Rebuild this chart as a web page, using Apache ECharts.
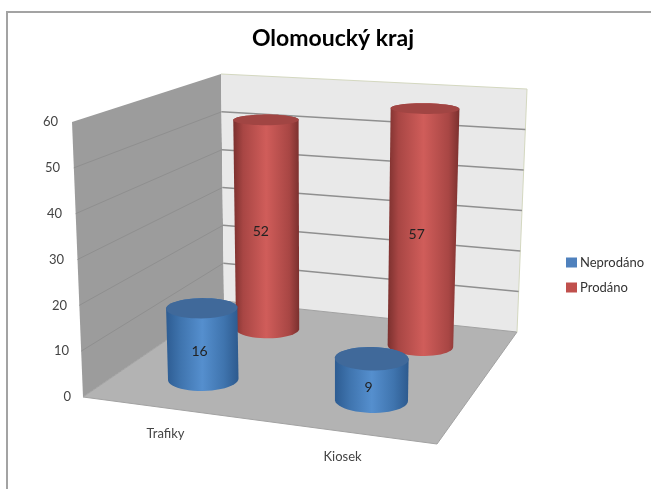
<!DOCTYPE html>
<html>
<head>
<meta charset="utf-8">
<title>Olomoucký kraj</title>
<script src="https://cdn.jsdelivr.net/npm/echarts@6/dist/echarts.min.js"></script>
<style>
  html, body { margin: 0; padding: 0; background: #fff; }
  #chart { width: 651px; height: 489px; }
</style>
</head>
<body>
<div id="chart"></div>
<script>
const categories = ['Trafiky', 'Kiosek']
const neprodano = [16, 9]
const prodano = [52, 57]
const yTicks = [0, 10, 20, 30, 40, 50, 60]

const FONT = 'Lato, "Open Sans", sans-serif'
const GRID = { left: 77, top: 122, width: 354, height: 275 }

// corners of the 3D box as they appear on screen
const floorQuad = [[83, 397], [437, 444], [517, 332], [224, 301]]
const topQuad = [[72, 122], [443, 146], [527, 89], [221, 74]]

function homography(q) {
  const [[x0, y0], [x1, y1], [x2, y2], [x3, y3]] = q
  const dx1 = x1 - x2, dx2 = x3 - x2, dx3 = x0 - x1 + x2 - x3
  const dy1 = y1 - y2, dy2 = y3 - y2, dy3 = y0 - y1 + y2 - y3
  const den = dx1 * dy2 - dx2 * dy1
  const g = (dx3 * dy2 - dx2 * dy3) / den
  const h = (dx1 * dy3 - dx3 * dy1) / den
  return (u, d) => {
    const w = g * u + h * d + 1
    return [
      ((x1 - x0 + g * x1) * u + (x3 - x0 + h * x3) * d + x0) / w,
      ((y1 - y0 + g * y1) * u + (y3 - y0 + h * y3) * d + y0) / w,
    ]
  }
}
const onFloor = homography(floorQuad)
const onTop = homography(topQuad)

// u: 0-1 along the categories, d: 0-1 into the depth, v: 0-1 up the value axis
function project(u, d, v) {
  const a = onFloor(u, d)
  const b = onTop(u, d)
  return [a[0] + (b[0] - a[0]) * v, a[1] + (b[1] - a[1]) * v]
}
function uFromPixel(x) { return (x - GRID.left) / GRID.width }
function vFromPixel(y) { return (GRID.top + GRID.height - y) / GRID.height }

function renderWalls(params, api) {
  return {
    type: 'group',
    children: [
      { type: 'polygon', shape: { points: [project(0, 0, 0), project(0, 1, 0), project(0, 1, 1), project(0, 0, 1)] },
        style: { fill: '#9c9c9c' } },
      { type: 'polygon', shape: { points: [project(0, 1, 0), project(1, 1, 0), project(1, 1, 1), project(0, 1, 1)] },
        style: { fill: '#e9e9e9' } },
      { type: 'polygon', shape: { points: [project(0, 0, 0), project(1, 0, 0), project(1, 1, 0), project(0, 1, 0)] },
        style: { fill: '#b3b3b3', stroke: '#a2a2a2', lineWidth: 1 } },
      { type: 'polyline', shape: { points: [project(0, 1, 1), project(1, 1, 1), project(1, 1, 0)] },
        style: { fill: 'none', stroke: '#d4d8c0', lineWidth: 1 } },
    ],
  }
}

function renderGridLine(params, api) {
  const v = vFromPixel(api.coord([0, api.value(1)])[1])
  if (v <= 0 || v >= 1) return null
  return {
    type: 'group',
    children: [
      { type: 'polyline', shape: { points: [project(0, 0, v), project(0, 1, v)] },
        style: { fill: 'none', stroke: '#8f8f8f', lineWidth: 1 } },
      { type: 'polyline', shape: { points: [project(0, 1, v), project(1, 1, v)] },
        style: { fill: 'none', stroke: '#8f8f8f', lineWidth: 1.5 } },
    ],
  }
}

function cylinderRenderer(depth, look) {
  const R = 0.1
  const ring = (u, v) => {
    const pts = []
    for (let i = 0; i < 48; i++) {
      const t = (i / 48) * Math.PI * 2
      pts.push(project(u + R * Math.cos(t), depth + R * Math.sin(t), v))
    }
    return pts
  }
  return function (params, api) {
    const val = api.value(1)
    const p = api.coord([api.value(0), val])
    const u = uFromPixel(p[0])
    const v = vFromPixel(p[1])
    const bottom = ring(u, 0)
    const top = ring(u, v)
    const side = pts => {
      let l = 0, r = 0
      pts.forEach((q, i) => {
        if (q[0] < pts[l][0]) l = i
        if (q[0] > pts[r][0]) r = i
      })
      return [l, r]
    }
    // near arc of the base plus far arc of the top gives the body outline
    const [bl, br] = side(bottom)
    const [tl, tr] = side(top)
    const front = []
    for (let i = bl; ; i = (i + 1) % 48) {
      front.push(bottom[i])
      if (i === br) break
    }
    const back = []
    for (let i = tr; ; i = (i + 1) % 48) {
      back.push(top[i])
      if (i === tl) break
    }
    const x0 = Math.min(bottom[bl][0], top[tl][0])
    const x1 = Math.max(bottom[br][0], top[tr][0])
    const mid = project(u, depth, v * 0.5)
    return {
      type: 'group',
      children: [
        { type: 'polygon', shape: { points: front.concat(back) },
          style: { fill: new echarts.graphic.LinearGradient(x0, 0, x1, 0, look.body, true) } },
        { type: 'polygon', shape: { points: top }, style: { fill: look.cap } },
        { type: 'text', x: mid[0] + look.labelDx, y: mid[1] + look.labelDy,
          style: { text: String(val), fontFamily: FONT, fontSize: 14, fill: '#222', align: 'center', verticalAlign: 'middle' } },
      ],
    }
  }
}

const redLook = {
  cap: '#a14543', labelDx: -6, labelDy: 7,
  body: [
    { offset: 0, color: '#7b302e' }, { offset: 0.15, color: '#a84644' }, { offset: 0.5, color: '#d05d5a' },
    { offset: 0.85, color: '#a84644' }, { offset: 1, color: '#7a302e' },
  ],
}
const blueLook = {
  cap: '#40699a', labelDx: -3, labelDy: 8,
  body: [
    { offset: 0, color: '#2d5c92' }, { offset: 0.2, color: '#3f74ae' }, { offset: 0.5, color: '#558fce' },
    { offset: 0.8, color: '#3f74ae' }, { offset: 1, color: '#2d5a8e' },
  ],
}

const chart = echarts.init(document.getElementById('chart'), null, { renderer: 'canvas' })
chart.setOption({
  animation: false,
  backgroundColor: '#fff',
  title: {
    text: 'Olomoucký kraj', left: 328, top: 22, textAlign: 'center',
    textStyle: { fontFamily: FONT, fontSize: 23, fontWeight: 'bold', color: '#000' },
  },
  legend: {
    orient: 'vertical', left: 561, top: 251, itemWidth: 11, itemHeight: 10, itemGap: 12, icon: 'rect',
    data: ['Neprodáno', 'Prodáno'],
    textStyle: { fontFamily: FONT, fontSize: 13, color: '#333', padding: [0, 0, 0, -2] },
  },
  graphic: [{
    type: 'polyline', silent: true, z: -10,
    shape: { points: [[7, 489], [7, 12], [651, 12]] },
    style: { fill: 'none', stroke: '#a3a3a3', lineWidth: 2 },
  }],
  grid: GRID,
  xAxis: {
    type: 'category', data: categories,
    axisLine: { show: false }, axisTick: { show: false }, splitLine: { show: false },
    axisLabel: {
      margin: 30, interval: 0,
      formatter: (name, i) => `{c${i}|${name}}`,
      rich: {
        c0: { fontFamily: FONT, fontSize: 13, color: '#444' },
        c1: { fontFamily: FONT, fontSize: 13, color: '#444', padding: [23, 0, 0, 0] },
      },
    },
  },
  yAxis: {
    type: 'value', min: 0, max: 60, interval: 10,
    axisLine: { show: false }, axisTick: { show: false }, splitLine: { show: false },
    axisLabel: {
      margin: 6,
      formatter: v => `{t${v}|${v}}`,
      // the value axis leans with the left wall
      rich: Object.fromEntries(yTicks.map(v => [`t${v}`, {
        fontFamily: FONT, fontSize: 13, color: '#444', padding: [0, Math.round(v * 0.22), 0, 0],
      }])),
    },
  },
  series: [
    { type: 'custom', name: 'walls', data: [[0, 0]], renderItem: renderWalls, z: 1, silent: true },
    { type: 'custom', name: 'grid', data: yTicks.map(t => [0, t]), renderItem: renderGridLine, z: 2, silent: true },
    { type: 'custom', name: 'Prodáno', data: prodano.map((v, i) => [i, v]), renderItem: cylinderRenderer(0.76, redLook), z: 3,
      itemStyle: { color: '#c0504d', borderColor: '#8c3836' } },
    { type: 'custom', name: 'Neprodáno', data: neprodano.map((v, i) => [i, v]), renderItem: cylinderRenderer(0.25, blueLook), z: 4,
      itemStyle: { color: '#4f81bd', borderColor: '#2f5a8c' } },
  ],
})
</script>
</body>
</html>
